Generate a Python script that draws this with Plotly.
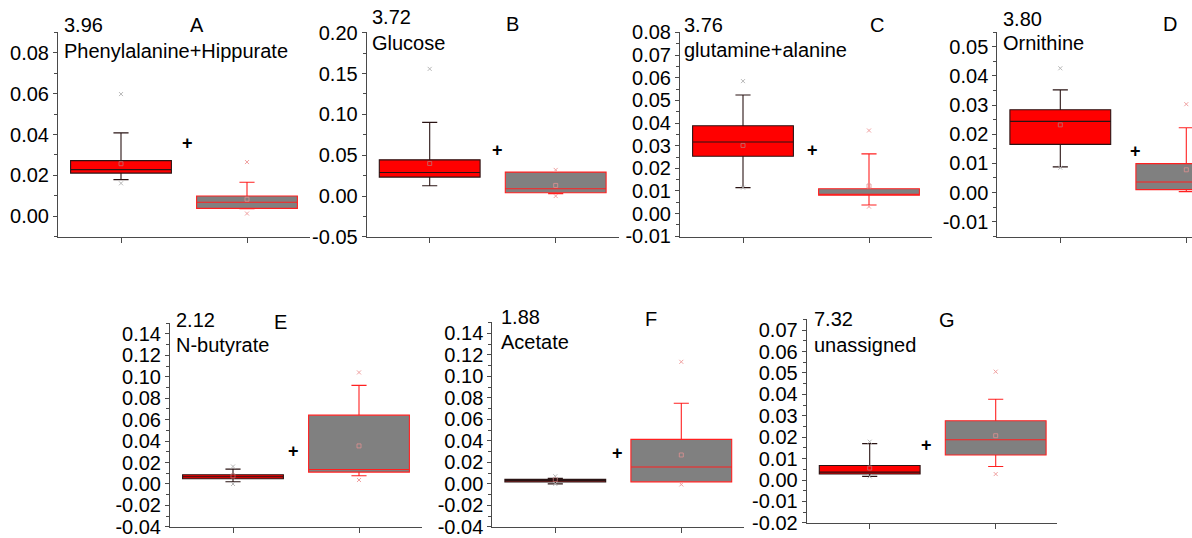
import math
import plotly.graph_objects as go

# ---------------- data ----------------
panel_letters = ["A", "B", "C", "D", "E", "F", "G"]
shift_labels = ["3.96", "3.72", "3.76", "3.80", "2.12", "1.88", "7.32"]
metabolites = ["Phenylalanine+Hippurate", "Glucose", "glutamine+alanine", "Ornithine",
               "N-butyrate", "Acetate", "unassigned"]

# group 1 (red boxes)
g1_q1 = [0.0211, 0.0232, 0.0253, 0.0165, 0.0049, 0.0019, 0.0028]
g1_med = [0.0228, 0.0289, 0.0316, 0.0244, 0.0068, 0.0033, 0.0037]
g1_q3 = [0.0272, 0.0443, 0.0388, 0.0284, 0.0086, 0.0044, 0.0068]
g1_lo = [0.0179, 0.0126, 0.0115, 0.0088, 0.0021, 0.0000, 0.0017]
g1_hi = [0.0408, 0.0902, 0.0524, 0.0352, 0.0139, 0.0053, 0.0170]
g1_mean = [0.0257, 0.0399, 0.0301, 0.0232, 0.0075, 0.0040, 0.0056]
g1_out = [[0.0598, 0.0161], [0.1557], [0.0585, 0.0115], [0.0426, 0.0085],
          [0.0163, 0.0], [0.0071, 0.0], [0.0179, 0.0017]]

# group 2 (grey boxes)
g2_q1 = [0.0038, 0.0040, 0.0081, 0.0010, 0.0111, 0.0019, 0.0117]
g2_med = [0.0068, 0.0089, 0.0085, 0.0036, 0.0135, 0.0157, 0.0188]
g2_q3 = [0.0099, 0.0293, 0.0110, 0.0099, 0.0642, 0.0414, 0.0277]
g2_lo = [0.0036, 0.0028, 0.0038, 0.0003, 0.0077, 0.0019, 0.0063]
g2_hi = [0.0166, 0.0293, 0.0264, 0.0222, 0.0919, 0.0750, 0.0377]
g2_mean = [0.0083, 0.0130, 0.0122, 0.0078, 0.0355, 0.0269, 0.0207]
g2_out = [[0.0265, 0.0013], [0.032, 0.0], [0.0367, 0.0031], [0.0303],
          [0.104, 0.0037], [0.1136, -0.0005], [0.0506, 0.0028]]

# significance "+" marks (position between groups, value level)
plus_x = [1.53, 1.54, 1.55, 1.595, 1.48, 1.49, 1.45]
plus_y = [0.0356, 0.0561, 0.0281, 0.0144, 0.0311, 0.0287, 0.0164]

# y axis settings
y_ranges = [[-0.01, 0.09], [-0.05, 0.20], [-0.01, 0.08], [-0.015, 0.055],
            [-0.04, 0.15], [-0.04, 0.15], [-0.02, 0.075]]
y_dticks = [0.02, 0.05, 0.01, 0.01, 0.02, 0.02, 0.01]

# ---------------- layout geometry (pixels) ----------------
W, H = 1192, 538
# (left, right, top, bottom) of each plot area
areas = [(58, 310, 32, 237), (366.7, 618.7, 32.3, 237.3), (680, 932, 32, 236.7),
         (997.3, 1192, 31.7, 236.7), (170, 421.7, 322.7, 527.3),
         (492.3, 744.3, 322.3, 527.3), (806.7, 1057.3, 319, 523.3)]
# text positions: (shift x, shift y, letter x, letter y, name x, name y)
text_pos = [(62, 25, 197, 25, 62, 51), (370, 17, 512, 24, 370, 43),
            (682, 25, 877, 25, 682, 50), (1001, 19, 1170, 24, 1001, 43),
            (174, 320, 280, 322, 174, 345), (499, 317, 651, 319, 499, 342),
            (812, 319, 947, 320, 812, 345)]

FONT = "Liberation Sans, Arial, sans-serif"
AXC = "#4a4a4a"


def px(x):
    return x / W


def py(y):
    return 1 - y / H


fig = go.Figure()
layout = dict(width=W, height=H, autosize=False,
              margin=dict(l=0, r=0, t=0, b=0, pad=0, autoexpand=False),
              paper_bgcolor="white", plot_bgcolor="white", showlegend=False,
              font=dict(family=FONT, size=20, color="black"))
annotations = []

for i in range(7):
    n = "" if i == 0 else str(i + 1)
    xa, ya = "x" + n, "y" + n
    l, r, t, b = areas[i]
    per_unit = 126.0
    xmax = 0.5 + (r - l) / per_unit
    y0, y1 = y_ranges[i]
    d = y_dticks[i]
    k0 = math.ceil(round(y0 / d, 6))
    k1 = math.floor(round(y1 / d, 6))
    tv = [round(k * d, 4) for k in range(k0, k1 + 1)]
    tt = ["%.2f" % v for v in tv]
    tt = ["0.00" if s == "-0.00" else s for s in tt]
    eps = (y1 - y0) * 0.002

    layout["xaxis" + n] = dict(domain=[px(l), px(r)], range=[0.5, xmax], anchor=ya,
                               automargin=False,
                               showgrid=False, zeroline=False, showline=True,
                               linecolor=AXC, linewidth=1, ticks="outside", ticklen=5,
                               tickcolor=AXC, tickvals=[1, 2], showticklabels=False,
                               fixedrange=True)
    layout["yaxis" + n] = dict(domain=[py(b), py(t)], range=[y0 - eps, y1 + eps],
                               anchor=xa, automargin=False,
                               showgrid=False, zeroline=False, showline=True,
                               linecolor=AXC, linewidth=1, ticks="outside", ticklen=4,
                               tickcolor=AXC, tickvals=tv, ticktext=tt,
                               tickfont=dict(family=FONT, size=20, color="black"),
                               minor=dict(ticks="outside", ticklen=3, dtick=d / 2,
                                          tickcolor=AXC, showgrid=False),
                               fixedrange=True)

    fig.add_trace(go.Box(x=[1], q1=[g1_q1[i]], median=[g1_med[i]], q3=[g1_q3[i]],
                         lowerfence=[g1_lo[i]], upperfence=[g1_hi[i]],
                         fillcolor="#ff0000", line=dict(color="#2a1414", width=1.1),
                         width=0.8, whiskerwidth=0.15, boxpoints=False,
                         xaxis=xa, yaxis=ya, hoverinfo="skip"))
    fig.add_trace(go.Box(x=[2], q1=[g2_q1[i]], median=[g2_med[i]], q3=[g2_q3[i]],
                         lowerfence=[g2_lo[i]], upperfence=[g2_hi[i]],
                         fillcolor="#808080", line=dict(color="#ff2020", width=1.1),
                         width=0.8, whiskerwidth=0.15, boxpoints=False,
                         xaxis=xa, yaxis=ya, hoverinfo="skip"))
    # mean markers
    fig.add_trace(go.Scatter(x=[1, 2], y=[g1_mean[i], g2_mean[i]], mode="markers",
                             marker=dict(symbol="square-open", size=4,
                                         color=["#c07070", "#e09090"],
                                         line=dict(width=0.8)),
                             xaxis=xa, yaxis=ya, hoverinfo="skip"))
    # outliers
    fig.add_trace(go.Scatter(x=[1] * len(g1_out[i]), y=g1_out[i], mode="markers",
                             marker=dict(symbol="x-thin-open", size=4, color="#b8b8b8",
                                         line=dict(color="#b8b8b8", width=1)),
                             xaxis=xa, yaxis=ya, hoverinfo="skip"))
    fig.add_trace(go.Scatter(x=[2] * len(g2_out[i]), y=g2_out[i], mode="markers",
                             marker=dict(symbol="x-thin-open", size=4, color="#f0a0a0",
                                         line=dict(color="#f0a0a0", width=1)),
                             xaxis=xa, yaxis=ya, hoverinfo="skip"))
    # "+" sign
    annotations.append(dict(x=plus_x[i], y=plus_y[i], xref=xa, yref=ya,
                            text="<b>+</b>", showarrow=False,
                            font=dict(family=FONT, size=18, color="black"),
                            xanchor="center", yanchor="middle"))
    sx, sy, lx, ly, nx, ny = text_pos[i]
    annotations.append(dict(x=px(sx), y=py(sy), xref="paper", yref="paper",
                            text=shift_labels[i], showarrow=False, xanchor="left",
                            yanchor="middle", font=dict(family=FONT, size=20)))
    annotations.append(dict(x=px(lx), y=py(ly), xref="paper", yref="paper",
                            text=panel_letters[i], showarrow=False, xanchor="center",
                            yanchor="middle", font=dict(family=FONT, size=20)))
    annotations.append(dict(x=px(nx), y=py(ny), xref="paper", yref="paper",
                            text=metabolites[i], showarrow=False, xanchor="left",
                            yanchor="middle", font=dict(family=FONT, size=20)))

layout["annotations"] = annotations
fig.update_layout(**layout)
fig.write_html("out.html", config={"displayModeBar": False},
               post_script="document.body.style.margin='0';"
                           "document.body.style.overflow='hidden';")
